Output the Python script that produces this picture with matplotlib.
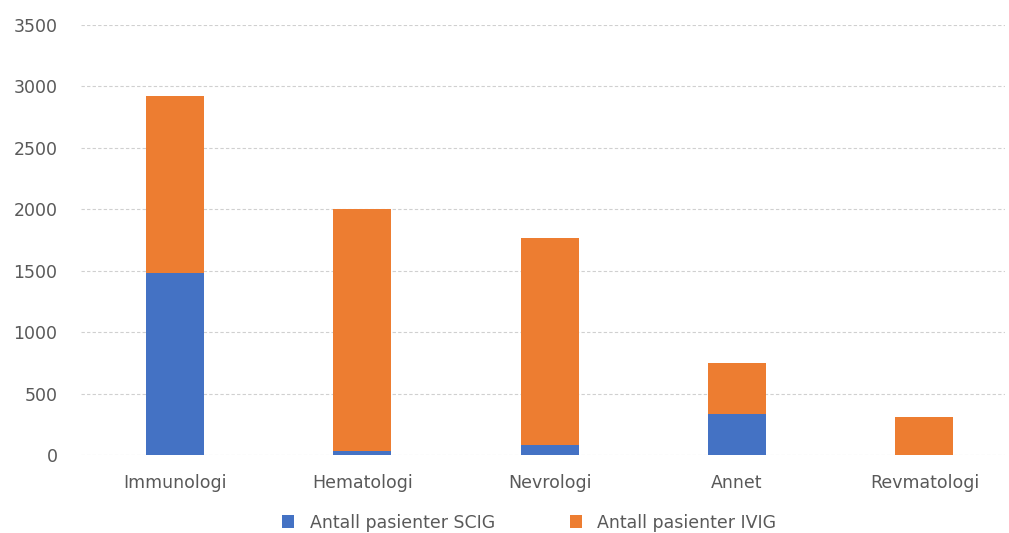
import matplotlib.pyplot as plt
import numpy as np

categories = ["Immunologi", "Hematologi", "Nevrologi", "Annet", "Revmatologi"]
scig = [1480, 33, 81, 334, 0]
ivig = [1440, 1972, 1685, 412, 312]

plt.rcParams["font.family"] = ["DejaVu Sans"]

fig = plt.figure(figsize=(10.09, 5.33), dpi=100)
ax = fig.add_axes([0.0803, 0.1463, 0.9157, 0.8068])

x = np.arange(len(categories))
width = 0.31
ax.bar(x, scig, width, color="#4472C4", label="Antall pasienter SCIG", zorder=3)
ax.bar(x, ivig, width, bottom=scig, color="#ED7D31",
       label="Antall pasienter IVIG", zorder=3)

ax.set_xlim(-0.5, 4.43)
ax.set_ylim(0, 3500)
ax.set_yticks(range(0, 3501, 500))
ax.set_xticks(x)
ax.set_xticklabels(categories)
ax.tick_params(axis="both", length=0, labelsize=12.5, colors="#595959")
ax.tick_params(axis="y", pad=17)
ax.tick_params(axis="x", pad=14)

ax.grid(axis="y", color="#D0D0D0", linestyle=(0, (3, 2)), linewidth=0.8, zorder=0)
for s in ax.spines.values():
    s.set_visible(False)

ax.legend(loc="center", bbox_to_anchor=(0.485, -0.157), ncol=2,
          frameon=False, fontsize=12.5, labelcolor="#595959",
          handlelength=0.7, handleheight=0.7, handletextpad=0.9,
          columnspacing=4.3)

fig.savefig("out.png", dpi=100)
